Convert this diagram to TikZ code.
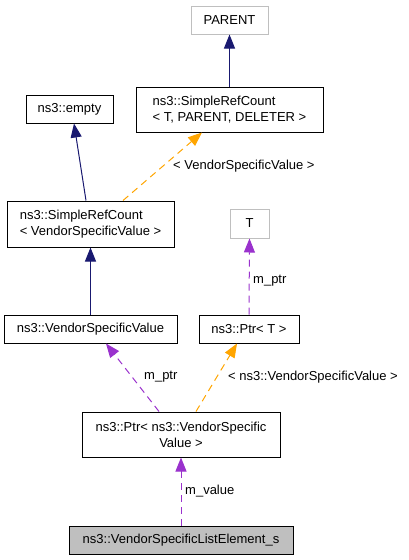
\documentclass[tikz,border=0pt]{standalone}
\usepackage{fontspec}
\setmainfont{Liberation Sans}
\usetikzlibrary{arrows.meta,positioning,calc}

\definecolor{edgeblue}{HTML}{191970}
\definecolor{edgepurple}{HTML}{9A32CD}
\definecolor{edgeorange}{HTML}{FFA500}
\definecolor{boxgray}{HTML}{BFBFBF}

\tikzset{
  cls/.style={draw=black, line width=1pt, inner sep=0pt, font=\fontsize{13}{16}\selectfont},
  ext/.style={cls, draw=boxgray},
  inh/.style={edgeblue, line width=1pt, -{Triangle[length=14pt,width=11pt]}},
  use/.style={edgepurple, line width=1pt, dash pattern=on 7pt off 5pt, -{Triangle[length=14pt,width=11pt]}},
  tpl/.style={edgeorange, line width=1pt, dash pattern=on 7pt off 5pt, -{Triangle[length=14pt,width=11pt]}},
  lbl/.style={anchor=west, inner sep=0pt, font=\fontsize{13}{16}\selectfont}
}

\begin{document}
\begin{tikzpicture}[x=1pt,y=-1pt]
			\useasboundingbox (0,0) rectangle (408,560);
			% top row
			\node[ext, minimum width=77pt, minimum height=28pt] (parent) at (229.5,20) {PARENT};
			\node[cls, minimum width=187pt, minimum height=45pt, align=left] (srctpd) at (229.5,109.5) {ns3::SimpleRefCount\\< T, PARENT, DELETER >};
			\node[cls, minimum width=87pt, minimum height=28pt] (empty) at (69.5,109) {ns3::empty};
			
			% middle rows
			\node[cls, minimum width=167pt, minimum height=46pt, align=left] (srcvsv) at (90.5,224) {ns3::SimpleRefCount\\< VendorSpecificValue >};
			\node[ext, minimum width=39pt, minimum height=29pt] (tnode) at (249.5,223.5) {T};
			\node[cls, minimum width=173pt, minimum height=28pt] (vsv) at (90.5,329) {ns3::VendorSpecificValue};
			\node[cls, minimum width=100pt, minimum height=28pt] (ptrt) at (249,329) {ns3::Ptr< T >};
			
			% bottom rows
			\node[cls, minimum width=198pt, minimum height=45pt, align=center] (ptrvsv) at (181,434.5) {ns3::Ptr< ns3::VendorSpecific\\Value >};
			\node[cls, fill=boxgray, minimum width=224pt, minimum height=28pt] (elem) at (181,540) {ns3::VendorSpecificListElement\_s};
			
			% inheritance
			\draw[inh] (srctpd.north) -- (parent.south);
			\draw[inh] ([xshift=-4.5pt]srcvsv.north) -- ([xshift=4.5pt]empty.south);
			\draw[inh] (vsv.north) -- (srcvsv.south);
			
			% template instances
			\draw[tpl] ([xshift=32.5pt]srcvsv.north) -- ([xshift=-27.5pt]srctpd.south);
			\draw[tpl] ([xshift=15pt]ptrvsv.north) -- ([xshift=-12pt]ptrt.south);
			
			% members
			\draw[use] (ptrt.north) -- (tnode.south);
			\draw[use] ([xshift=-22pt]ptrvsv.north) -- ([xshift=15.5pt]vsv.south);
			\draw[use] (elem.north) -- (ptrvsv.south);
			
			% labels
			\node[lbl] (lvsv) at (173,166) {< VendorSpecificValue >};
			\node[lbl] (lptrt) at (253,281) {m\_ptr};
			\node[lbl] (lptrv) at (144,377) {m\_ptr};
			\node[lbl] (lnsv) at (228,377) {< ns3::VendorSpecificValue >};
			\node[lbl] (lval) at (185,491) {m\_value};
		\end{tikzpicture}
\end{document}
